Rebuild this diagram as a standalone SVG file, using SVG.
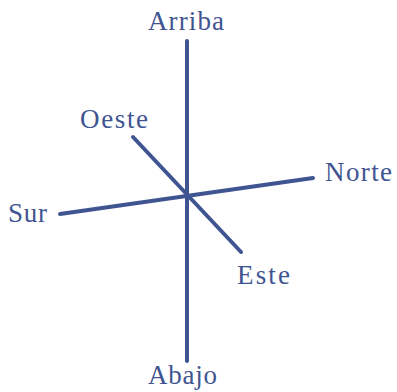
<svg xmlns="http://www.w3.org/2000/svg" width="397" height="392" viewBox="0 0 397 392">
<style>
.ax{stroke:#3f5591;stroke-width:4;stroke-linecap:round;fill:none}
.lb{font-family:"Liberation Serif",serif;font-size:27px;fill:#3f5591}
</style>
<rect width="397" height="392" fill="#fff"/>
<g id="connectors">
<line class="ax" x1="187" y1="41" x2="187" y2="361"/>
<line class="ax" x1="60" y1="214" x2="313" y2="178"/>
<line class="ax" x1="133" y1="137" x2="241" y2="252"/>
</g>
<g id="arriba"><text class="lb" x="148" y="30" textLength="76" lengthAdjust="spacing">Arriba</text></g>
<g id="oeste"><text class="lb" x="80" y="128" textLength="68" lengthAdjust="spacing">Oeste</text></g>
<g id="norte"><text class="lb" x="325" y="181" textLength="67" lengthAdjust="spacing">Norte</text></g>
<g id="sur"><text class="lb" x="8" y="222" textLength="39" lengthAdjust="spacing">Sur</text></g>
<g id="este"><text class="lb" x="237" y="284" textLength="53" lengthAdjust="spacing">Este</text></g>
<g id="abajo"><text class="lb" x="148" y="384" textLength="69" lengthAdjust="spacing">Abajo</text></g>
</svg>
